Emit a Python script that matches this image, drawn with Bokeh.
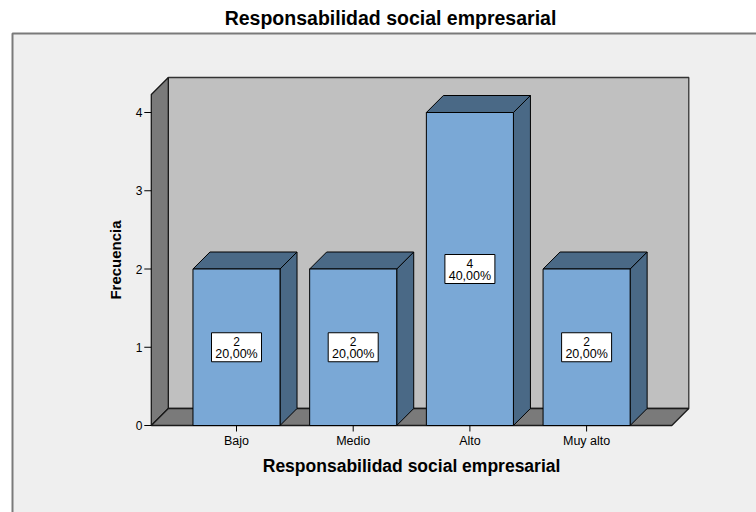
from math import pi

from bokeh.core.properties import value
from bokeh.embed import file_html
from bokeh.models import ColumnDataSource, Range1d
from bokeh.plotting import figure
from bokeh.resources import INLINE

# ---- data -------------------------------------------------------------
categories = ["Bajo", "Medio", "Alto", "Muy alto"]
frequencies = [2, 2, 4, 2]
y_ticks = [0, 1, 2, 3, 4]
chart_title = "Responsabilidad social empresarial"
x_title = "Responsabilidad social empresarial"
y_title = "Frecuencia"

# ---- layout -----------------------------------------------------------
W, H = 756, 512
PX_PER_CAT = 116.7     # pixels between neighbouring categories
PX_PER_UNIT = 78.25    # pixels per unit of frequency
X0_PX, Y0_PX = 236, 425  # pixel position of the first category / of zero

FONT = value("Liberation Sans")


def dxp(px):
    """horizontal pixel length -> category units"""
    return px / PX_PER_CAT


def dyp(px):
    """vertical pixel length -> frequency units"""
    return px / PX_PER_UNIT


x_range = Range1d(-dxp(X0_PX), dxp(W - X0_PX))
y_range = Range1d(-dyp(H - Y0_PX), dyp(Y0_PX))

p = figure(width=W, height=H, x_range=x_range, y_range=y_range,
           output_backend="svg", toolbar_location=None, min_border=0,
           x_axis_location=None, y_axis_location=None, title=None,
           background_fill_color="white", border_fill_color="white",
           outline_line_color=None)
p.grid.visible = False

# 3-D depth of the box and the bars
DX, DY = dxp(17), dyp(17)
XL, XH = -0.73, len(categories) - 1 + 0.73   # front edge of floor
YT = 4.23                                    # top of the walls
HALF = 0.373                                 # half bar width

BAR_FRONT = "#7AA8D6"
BAR_DARK = "#4A6986"
WALL_BACK = "#C0C0C0"
WALL_SIDE = "#7A7A7A"
PANEL = "#EFEFEF"

# outer chart panel
p.quad(left=[-dxp(X0_PX - 12)], right=[x_range.end + 1],
       top=[dyp(Y0_PX - 33)], bottom=[y_range.start - 1],
       fill_color=PANEL, line_color="#7A7A7A", line_width=2)

# back wall, left side wall and floor
p.patch([XL + DX, XH + DX, XH + DX, XL + DX], [DY, DY, YT + DY, YT + DY],
        fill_color=WALL_BACK, line_color="#333333", line_width=1.3)
p.patch([XL, XL + DX, XL + DX, XL], [0, DY, YT + DY, YT],
        fill_color=WALL_SIDE, line_color="#1a1a1a", line_width=1.3)
p.patch([XL, XH, XH + DX, XL + DX], [0, 0, DY, DY],
        fill_color=WALL_SIDE, line_color="#1a1a1a", line_width=1.3)

# bars
idx = list(range(len(categories)))
total = sum(frequencies)
src = ColumnDataSource(dict(
    x=idx,
    left=[i - HALF for i in idx],
    right=[i + HALF for i in idx],
    top=frequencies,
    mid=[v / 2 for v in frequencies],
    count=[str(v) for v in frequencies],
    pct=[f"{100 * v / total:.2f}".replace(".", ",") + "%" for v in frequencies],
))

top_xs, top_ys, side_xs, side_ys = [], [], [], []
for i, v in zip(idx, frequencies):
    x0, x1 = i - HALF, i + HALF
    top_xs.append([x0, x1, x1 + DX, x0 + DX])
    top_ys.append([v, v, v + DY, v + DY])
    side_xs.append([x1, x1 + DX, x1 + DX, x1])
    side_ys.append([0, DY, v + DY, v])

p.patches(side_xs, side_ys, fill_color=BAR_DARK, line_color="black", line_width=1)
p.patches(top_xs, top_ys, fill_color=BAR_DARK, line_color="black", line_width=1)
p.quad(left="left", right="right", top="top", bottom=0, source=src,
       fill_color=BAR_FRONT, line_color="black", line_width=1)

# value labels
p.rect(x="x", y="mid", width=50, height=29, width_units="screen",
       height_units="screen", source=src, fill_color="white",
       line_color="black", line_width=1)
p.text(x="x", y="mid", text="count", source=src, y_offset=-6,
       text_align="center", text_baseline="middle", text_font=FONT,
       text_font_size="12px", text_color="black")
p.text(x="x", y="mid", text="pct", source=src, y_offset=7,
       text_align="center", text_baseline="middle", text_font=FONT,
       text_font_size="12.5px", text_color="black")

# y axis ticks and labels
p.segment(x0=[XL - dxp(7)] * len(y_ticks), y0=y_ticks,
          x1=[XL] * len(y_ticks), y1=y_ticks, line_color="black", line_width=1)
p.text(x=[XL] * len(y_ticks), y=y_ticks, text=[str(t) for t in y_ticks],
       x_offset=-9, text_align="right", text_baseline="middle",
       text_font=FONT, text_font_size="12px", text_color="black")

# x axis ticks and labels
p.segment(x0=idx, y0=[0] * len(idx), x1=idx, y1=[-dyp(6)] * len(idx),
          line_color="black", line_width=1)
p.text(x=idx, y=[0] * len(idx), text=categories, y_offset=8,
       text_align="center", text_baseline="top", text_font=FONT,
       text_font_size="12.5px", text_color="black")

# axis titles
p.text(x=[(len(categories) - 1) / 2], y=[0], text=[x_title], y_offset=40,
       text_align="center", text_baseline="middle", text_font=FONT,
       text_font_size="17.5px", text_font_style="bold", text_color="black")
p.text(x=[XL], y=[YT / 2], text=[y_title], x_offset=-36, angle=pi / 2,
       text_align="center", text_baseline="middle", text_font=FONT,
       text_font_size="15px", text_font_style="bold", text_color="black")

# chart title
p.text(x=[dxp(390 - X0_PX)], y=[dyp(Y0_PX - 17)], text=[chart_title],
       text_align="center", text_baseline="middle", text_font=FONT,
       text_font_size="19.5px", text_font_style="bold", text_color="black")

open("out.html", "w").write(file_html(p, INLINE))
